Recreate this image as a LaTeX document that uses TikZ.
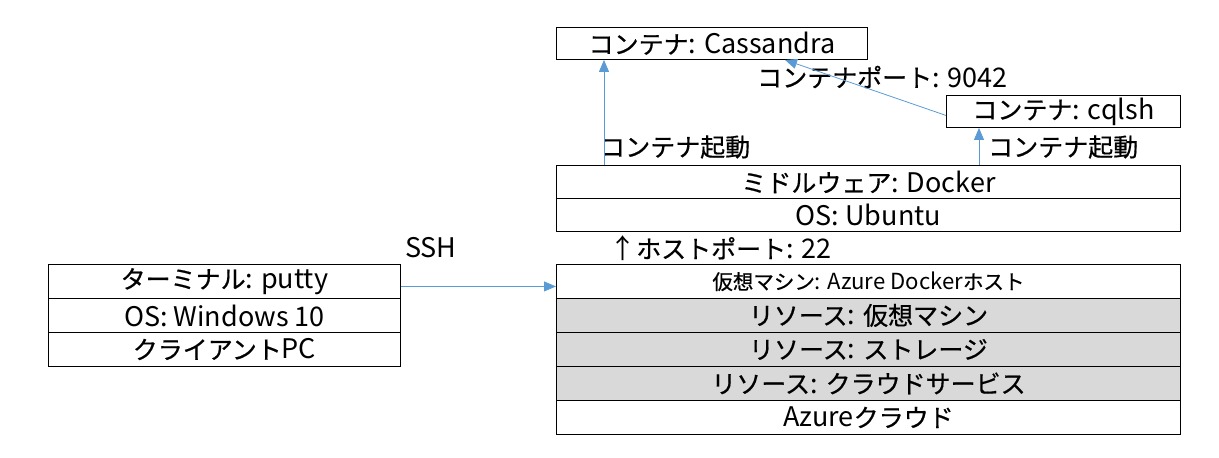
\documentclass[tikz,border=0pt]{standalone}
\usepackage{fontspec}
\setmainfont{Noto Sans CJK JP}[Scale=1.08]
\newfontfamily\jpfont{Noto Sans CJK JP}[FakeBold=0.6]
\newcommand\J[1]{{\jpfont #1}}
\usetikzlibrary{arrows.meta,calc}
\definecolor{arrowblue}{HTML}{5B9BD5}
\definecolor{resgray}{HTML}{D9D9D9}
\begin{document}
\begin{tikzpicture}[x=1pt,y=-1pt,
  box/.style={draw, line width=0.9pt, inner sep=0pt, anchor=north west, font=\fontsize{25}{27}\selectfont},
  res/.style={box, fill=resgray},
  lbl/.style={inner sep=0pt, anchor=west, font=\fontsize{25}{27}\selectfont},
  conn/.style={draw=arrowblue, line width=0.8pt, -{Triangle[length=12pt,width=10pt]}, arrowblue}]
\useasboundingbox (0,0) rectangle (1219,458);
% containers
\node[box, minimum width=311pt, minimum height=32pt] (cass) at (556,27) {\J{コンテナ}: Cassandra};
\node[box, minimum width=234pt, minimum height=32pt] (cql) at (946,95) {\J{コンテナ}: cqlsh};
% docker host stack
\node[box, minimum width=624pt, minimum height=33pt] (docker) at (556,165) {\J{ミドルウェア}: Docker};
\node[box, minimum width=624pt, minimum height=33pt] (ubuntu) at (556,198) {OS: Ubuntu};
% azure stack
\node[box, minimum width=624pt, minimum height=34pt, font=\fontsize{20.5}{22}\selectfont] (vm) at (556,264) {\J{仮想マシン}: Azure Docker\J{ホスト}};
\node[res, minimum width=624pt, minimum height=34pt] (r1) at (556,298) {\J{リソース}: \J{仮想マシン}};
\node[res, minimum width=624pt, minimum height=34pt] (r2) at (556,332) {\J{リソース}: \J{ストレージ}};
\node[res, minimum width=624pt, minimum height=34pt] (r3) at (556,366) {\J{リソース}: \J{クラウドサービス}};
\node[box, minimum width=624pt, minimum height=34pt] (cloud) at (556,400) {Azure\J{クラウド}};
% client stack
\node[box, minimum width=352pt, minimum height=34pt] (term) at (48,264) {\J{ターミナル}: putty};
\node[box, minimum width=352pt, minimum height=34pt] (win) at (48,298) {OS: Windows 10};
\node[box, minimum width=352pt, minimum height=34pt] (pc) at (48,332) {\J{クライアント}PC};
% labels
\node[lbl] (port) at (757,77) {\J{コンテナポート}: 9042};
\node[lbl] (start1) at (600,147) {\J{コンテナ起動}};
\node[lbl] (start2) at (988,147) {\J{コンテナ起動}};
\node[lbl] (hostport) at (609,248) {↑\J{ホストポート}: 22};
\node[lbl] (ssh) at (405,248) {SSH};
% connectors
\coordinate (s1) at (604,165);
\coordinate (s2) at (979,165);
\draw[conn] (s1) -- (s1 |- cass.south);
\draw[conn] (s2) -- (s2 |- cql.south);
\draw[conn] ($(cql.west)+(0,4)$) -- ($(cass.south west)+(229,0)$);
\draw[conn] ($(term.east)+(0,5)$) -- ($(term.east -| vm.west)+(0,5)$);
\end{tikzpicture}
\end{document}
